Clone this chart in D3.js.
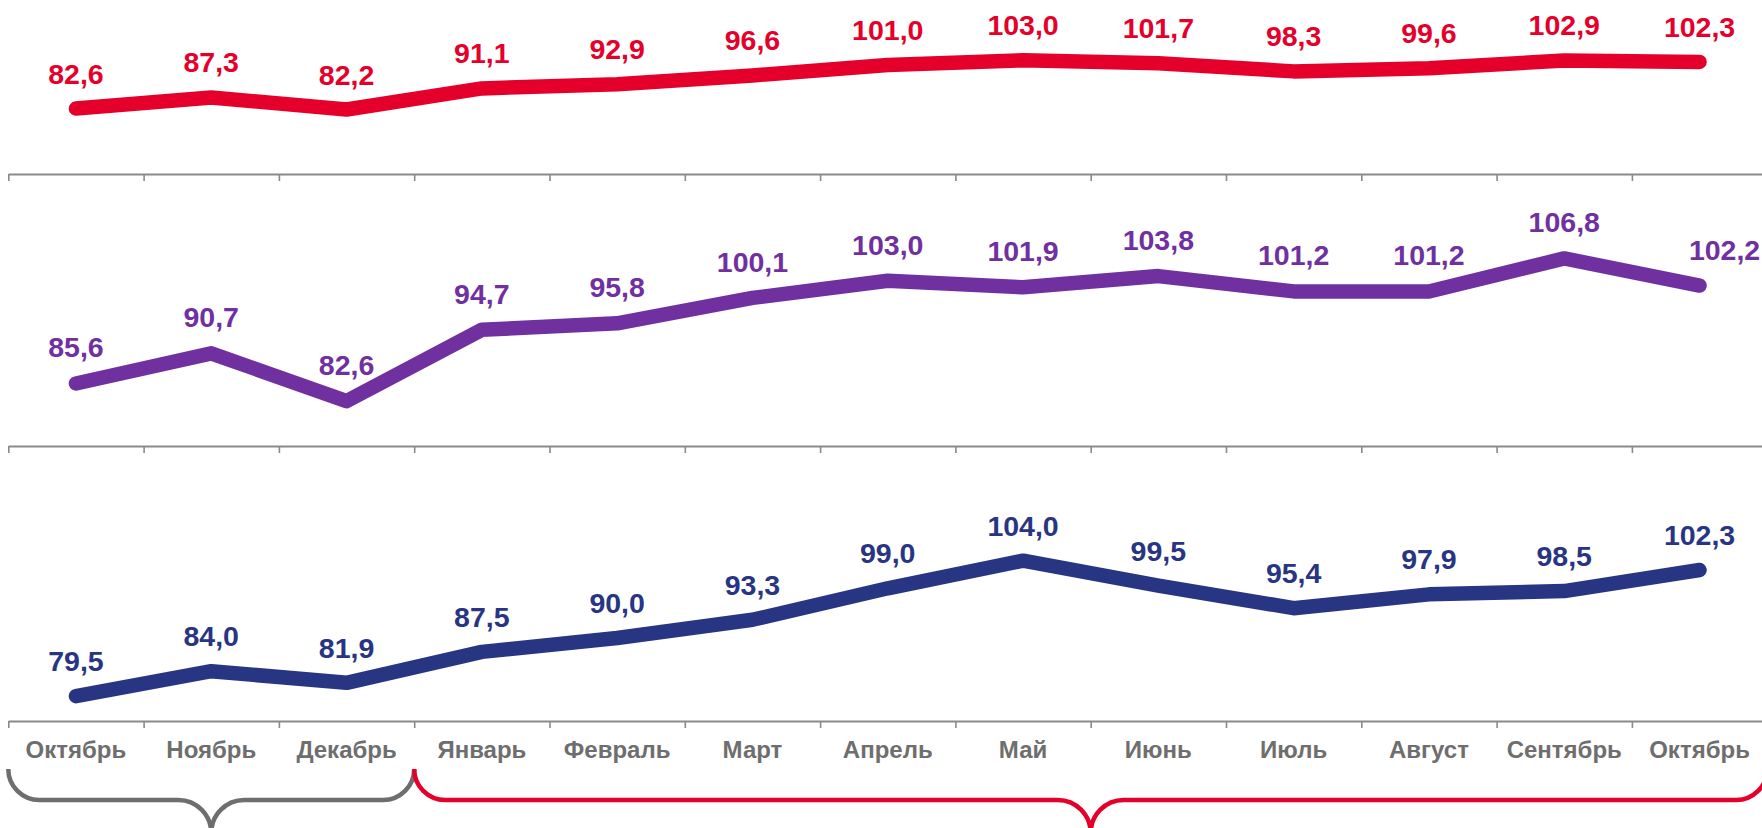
<!DOCTYPE html>
<html>
<head>
<meta charset="utf-8">
<script src="https://cdn.jsdelivr.net/npm/d3@7"></script>
<style>
  body { margin: 0; background: #fff; }
  text { font-family: "Liberation Sans", Arial, sans-serif; font-weight: bold; }
</style>
</head>
<body>
<div id="chart"></div>
<script>
const width = 1762;
const height = 828;

// data
const months = ["Октябрь", "Ноябрь", "Декабрь", "Январь", "Февраль", "Март", "Апрель",
                "Май", "Июнь", "Июль", "Август", "Сентябрь", "Октябрь"];
const redValues = [82.6, 87.3, 82.2, 91.1, 92.9, 96.6, 101.0, 103.0, 101.7, 98.3, 99.6, 102.9, 102.3];
const purpleValues = [85.6, 90.7, 82.6, 94.7, 95.8, 100.1, 103.0, 101.9, 103.8, 101.2, 101.2, 106.8, 102.2];
const navyValues = [79.5, 84.0, 81.9, 87.5, 90.0, 93.3, 99.0, 104.0, 99.5, 95.4, 97.9, 98.5, 102.3];
// month ranges under the braces (band indices)
const periods = [[0, 3], [3, 13]];

const xLeft = 8.3, step = 135.3;

const svg = d3.select("#chart")
    .append("svg")
        .attr("width", width)
        .attr("height", height);

const xBand = d3.scaleBand()
    .domain(d3.range(months.length))
    .range([xLeft, xLeft + step * months.length]);

const xEdge = d3.scaleLinear()
    .domain([0, months.length])
    .range([xLeft, xLeft + step * months.length]);

const fmt = v => d3.format(".1f")(v).replace(".", ",");

// one panel per series, each with its own y scale
const panels = [
    {values: redValues,    color: "#e4002b", domain: [55, 125], axisY: 174, pxPerUnit: 2.37, labelGap: 25, lastDx: 0},
    {values: purpleValues, color: "#7030a0", domain: [75, 125], axisY: 446, pxPerUnit: 5.9,  labelGap: 26, lastDx: 25},
    {values: navyValues,   color: "#283583", domain: [75, 125], axisY: 721, pxPerUnit: 5.53, labelGap: 25, lastDx: 0}
];

panels.forEach(function(p, k) {
    const yScale = d3.scaleLinear()
        .domain(p.domain)
        .range([p.axisY, p.axisY - (p.domain[1] - p.domain[0]) * p.pxPerUnit]);

    const g = svg.append("g");

    // axis with ticks on band edges
    const ax = g.append("g")
        .attr("transform", "translate(0," + p.axisY + ")")
        .call(d3.axisBottom(xEdge)
            .tickValues(d3.range(months.length + 1))
            .tickSize(7)
            .tickSizeOuter(0)
            .tickFormat(""));
    ax.select(".domain").attr("stroke", "#8a8a8a").attr("stroke-width", 2);
    ax.selectAll(".tick line").attr("stroke", "#8a8a8a").attr("stroke-width", 1.6);

    const cx = i => xBand(i) + xBand.bandwidth() / 2;

    const line = d3.line()
        .x((d, i) => cx(i))
        .y(d => yScale(d));

    g.append("path")
        .datum(p.values)
        .attr("fill", "none")
        .attr("stroke", p.color)
        .attr("stroke-width", 14.5)
        .attr("stroke-linecap", "round")
        .attr("stroke-linejoin", "round")
        .attr("d", line);

    const last = p.values.length - 1;
    g.selectAll(".val")
        .data(p.values)
        .join("text")
            .attr("class", "val")
            .attr("x", (d, i) => cx(i) + (i === last ? p.lastDx : 0))
            .attr("y", d => yScale(d) - p.labelGap)
            .attr("text-anchor", "middle")
            .attr("fill", p.color)
            .style("font-size", "28.5px")
            .text(fmt);

    if (k === panels.length - 1) {
        const lab = g.append("g")
            .attr("transform", "translate(0," + p.axisY + ")")
            .call(d3.axisBottom(xBand)
                .tickSize(0)
                .tickPadding(20)
                .tickFormat(i => months[i]));
        lab.select(".domain").remove();
        lab.selectAll("text")
            .attr("fill", "#6e6e6e")
            .style("font-size", "24px")
            .style("font-family", "'Liberation Sans', Arial, sans-serif")
            .style("font-weight", "bold");
    }
});

// braces under the month labels
const braceColors = ["#6e6e6e", "#e4002b"];
const braceTop = 769, braceMid = 800, r = 31, rc = 33, braceBottom = 833;

function bracePath(a, b) {
    const x0 = xEdge(a), x1 = xEdge(b), xm = (x0 + x1) / 2;
    return "M" + x0 + "," + braceTop +
        "A" + r + "," + r + " 0 0 0 " + (x0 + r) + "," + braceMid +
        "L" + (xm - rc) + "," + braceMid +
        "A" + rc + "," + rc + " 0 0 1 " + xm + "," + braceBottom +
        "M" + xm + "," + braceBottom +
        "A" + rc + "," + rc + " 0 0 1 " + (xm + rc) + "," + braceMid +
        "L" + (x1 - r) + "," + braceMid +
        "A" + r + "," + r + " 0 0 0 " + x1 + "," + braceTop;
}

svg.selectAll(".brace")
    .data(periods)
    .join("path")
        .attr("class", "brace")
        .attr("fill", "none")
        .attr("stroke", (d, i) => braceColors[i])
        .attr("stroke-width", 4.5)
        .attr("d", d => bracePath(d[0], d[1]));
</script>
</body>
</html>
